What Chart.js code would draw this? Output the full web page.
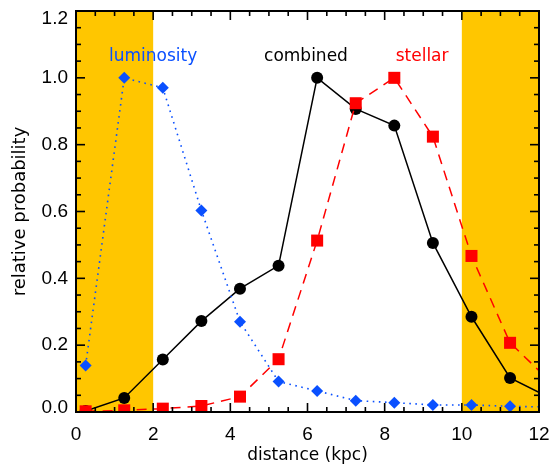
<!DOCTYPE html>
<html>
<head>
<meta charset="utf-8">
<script src="https://cdn.jsdelivr.net/npm/chart.js@4"></script>
<style>
  html, body { margin: 0; padding: 0; background: #fff; }
  #wrap { width: 551px; height: 466px; }
</style>
</head>
<body>
<div id="wrap"><canvas id="myChart" width="551" height="466"></canvas></div>
<script>
// distance bins (kpc), last one lies past the axis and is clipped
const distance = [0.25, 1.25, 2.25, 3.25, 4.25, 5.25, 6.25, 7.25, 8.25, 9.25, 10.25, 11.25, 12.25];
const luminosity = [0.139, 1.0, 0.97, 0.603, 0.27, 0.091, 0.063, 0.034, 0.028, 0.021, 0.021, 0.017, 0.015];
const stellar = [0.002, 0.005, 0.01, 0.018, 0.046, 0.158, 0.513, 0.924, 1.0, 0.824, 0.467, 0.207, 0.096];
const combined = [0.003, 0.042, 0.157, 0.272, 0.369, 0.438, 1.0, 0.907, 0.857, 0.506, 0.285, 0.102, 0.044];
const xTicks = [0, 2, 4, 6, 8, 10, 12];
const yTicks = [0.0, 0.2, 0.4, 0.6, 0.8, 1.0, 1.2];
const shaded = [[0, 2], [10, 12]];

const toPoints = (vals) => distance.map((d, i) => ({ x: d, y: vals[i] }));

const bandsPlugin = {
  id: "bands",
  beforeDatasetsDraw(chart) {
    const { ctx, chartArea, scales } = chart;
    ctx.save();
    ctx.fillStyle = "#FFC600";
    shaded.forEach(([a, b]) => {
      const x1 = scales.x.getPixelForValue(a);
      const x2 = scales.x.getPixelForValue(b);
      ctx.fillRect(x1, chartArea.top, x2 - x1, chartArea.bottom - chartArea.top);
    });
    ctx.restore();
  },
  afterDraw(chart) {
    const { ctx, chartArea, scales } = chart;
    const { left, right, top, bottom } = chartArea;
    const w = 1.6;
    ctx.save();
    ctx.fillStyle = "#000000";
    // inward ticks on all four sides, as thin rectangles
    for (let i = 0; i <= 24; i++) {
      const x = scales.x.getPixelForValue(i * 0.5);
      const len = i % 4 === 0 ? 9 : 5;
      ctx.fillRect(x - w / 2, bottom - len, w, len);
      ctx.fillRect(x - w / 2, top, w, len);
    }
    for (let i = 0; i <= 24; i++) {
      const y = scales.y.getPixelForValue(i * 0.05);
      const len = i % 4 === 0 ? 9 : 5;
      ctx.fillRect(left, y - w / 2, len, w);
      ctx.fillRect(right - len, y - w / 2, len, w);
    }
    // frame
    ctx.fillRect(left - 1, top - 1, right - left + 2, 2);
    ctx.fillRect(left - 1, bottom - 1, right - left + 2, 2);
    ctx.fillRect(left - 1, top - 1, 2, bottom - top + 2);
    ctx.fillRect(right - 1, top - 1, 2, bottom - top + 2);

    // curve names
    ctx.font = "17px 'DejaVu Sans'";
    ctx.textAlign = "center";
    ctx.textBaseline = "middle";
    const names = [["luminosity", "#0A50FF", 2.0], ["combined", "#000", 5.96], ["stellar", "#FF0000", 8.97]];
    names.forEach(([t, c, xv]) => {
      ctx.fillStyle = c;
      ctx.fillText(t, scales.x.getPixelForValue(xv), scales.y.getPixelForValue(1.065));
    });
    ctx.restore();
  },
};

// y labels at the ends are nudged inside the frame, like the original
const yTickFont = (c) => {
  const v = c.tick ? c.tick.value : 0.6;
  if (Math.abs(v - 1.2) < 1e-6) return { family: "'Liberation Sans', Arial", size: 19, lineHeight: "16px" };
  if (Math.abs(v) < 1e-6) return { family: "'Liberation Sans', Arial", size: 19, lineHeight: "9px" };
  return { family: "'Liberation Sans', Arial", size: 19 };
};
const yTickLabel = (v) => {
  const s = Number(v).toFixed(1);
  if (Math.abs(v - 1.2) < 1e-6) return ["", s];
  if (Math.abs(v) < 1e-6) return [s, ""];
  return s;
};

const ctx = document.getElementById("myChart").getContext("2d");
new Chart(ctx, {
  type: "line",
  data: {
    datasets: [
      {
        label: "luminosity",
        data: toPoints(luminosity),
        borderColor: "#0A50FF",
        backgroundColor: "#0A50FF",
        borderWidth: 1.6,
        borderDash: [1.6, 4.5],
        pointStyle: "rectRot",
        pointRadius: 6,
        pointBorderWidth: 0,
        clip: 0,
      },
      {
        label: "stellar",
        data: toPoints(stellar),
        borderColor: "#FF0000",
        backgroundColor: "#FF0000",
        borderWidth: 1.5,
        borderDash: [10, 7],
        pointStyle: "rect",
        pointRadius: 8.5,
        pointBorderWidth: 0,
        clip: 0,
      },
      {
        label: "combined",
        data: toPoints(combined),
        borderColor: "#000",
        backgroundColor: "#000",
        borderWidth: 1.5,
        pointStyle: "circle",
        pointRadius: 6,
        pointBorderWidth: 0,
        clip: 0,
      },
    ],
  },
  options: {
    responsive: false,
    animation: false,
    layout: { padding: { left: 10, right: 12, top: 11, bottom: 0 } },
    plugins: { legend: { display: false }, tooltip: { enabled: false } },
    scales: {
      x: {
        type: "linear",
        min: 0,
        max: 12,
        afterBuildTicks: (s) => { s.ticks = xTicks.map((v) => ({ value: v })); },
        afterFit: (s) => { s.height = 54; s.paddingLeft = 0; s.paddingRight = 0; },
        grid: { display: false, drawTicks: false },
        border: { display: false },
        ticks: { color: "#000", font: { family: "'Liberation Sans', Arial", size: 19 }, padding: 11, maxRotation: 0 },
        title: { display: true, text: "distance (kpc)", color: "#000", font: { family: "'DejaVu Sans'", size: 17 }, padding: { top: 2, bottom: 0 } },
      },
      y: {
        min: 0,
        max: 1.2,
        afterBuildTicks: (s) => { s.ticks = yTicks.map((v) => ({ value: v })); },
        afterFit: (s) => { s.width = 66; s.paddingTop = 0; s.paddingBottom = 0; },
        grid: { display: false, drawTicks: false },
        border: { display: false },
        ticks: { color: "#000", font: yTickFont, padding: 8, callback: yTickLabel },
        title: { display: true, text: "relative probability", color: "#000", font: { family: "'DejaVu Sans'", size: 18 }, padding: { top: 0, bottom: 4 } },
      },
    },
  },
  plugins: [bandsPlugin],
});
</script>
</body>
</html>
